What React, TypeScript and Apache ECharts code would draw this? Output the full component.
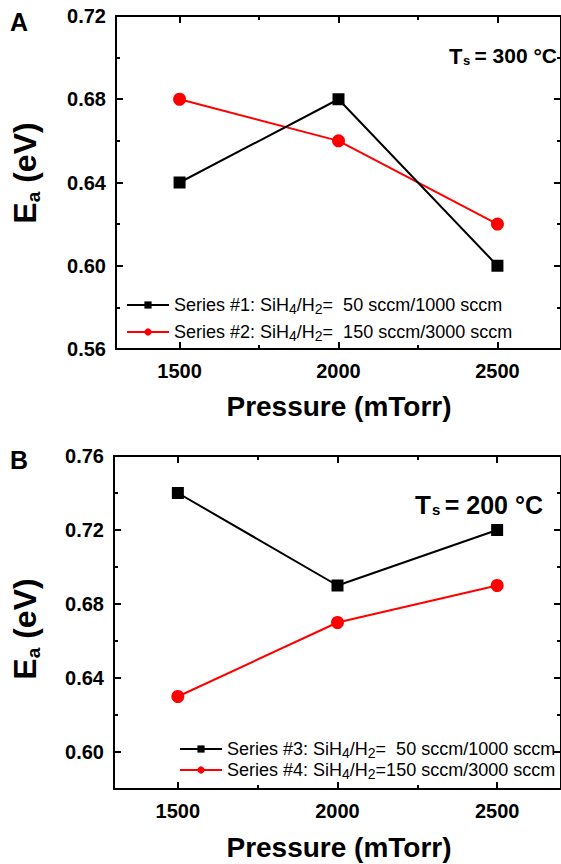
import React, { useEffect, useRef } from "react";
import * as echarts from "echarts";

const FONT = '"Liberation Sans", Arial, Helvetica, sans-serif';

const pressure = [1500, 2000, 2500];
const series1 = [0.64, 0.68, 0.6];
const series2 = [0.68, 0.66, 0.62];
const series3 = [0.74, 0.69, 0.72];
const series4 = [0.63, 0.67, 0.69];

const xMajorTicks = [1500, 2000, 2500];
const xMinorTicks = [1750, 2250];
const yMajorA = [0.56, 0.6, 0.64, 0.68, 0.72];
const yMinorA = [0.58, 0.62, 0.66, 0.7];
const yMajorB = [0.6, 0.64, 0.68, 0.72, 0.76];
const yMinorB = [0.62, 0.66, 0.7, 0.74];

const names = [
  "Series #1: SiH4/H2=  50 sccm/1000 sccm",
  "Series #2: SiH4/H2=  150 sccm/3000 sccm",
  "Series #3: SiH4/H2=  50 sccm/1000 sccm",
  "Series #4: SiH4/H2=150 sccm/3000 sccm",
];

const richName = (name: string) => {
  const idx = name.indexOf("SiH4/H2");
  const pre = name.slice(0, idx);
  const post = name.slice(idx + 7);
  return `{n|${pre}SiH}{s|4}{n|/H}{s|2}{n|${post}}`;
};

const lineCol = { color: "#000", width: 2 };

function xAxes(grid: number) {
  const base = { type: "value", gridIndex: grid, min: 1300, max: 2700, splitLine: { show: false } };
  return [
    {
      ...base,
      position: "bottom",
      axisLine: { show: true, onZero: false, lineStyle: lineCol },
      axisTick: { show: true, inside: true, length: 7, lineStyle: lineCol, customValues: xMajorTicks },
      axisLabel: {
        show: true,
        customValues: xMajorTicks,
        margin: 12,
        color: "#000",
        fontFamily: FONT,
        fontSize: 20,
        fontWeight: "bold",
        formatter: (v: number) => String(v),
      },
    },
    {
      ...base,
      position: "top",
      axisLine: { show: true, onZero: false, lineStyle: lineCol },
      axisTick: { show: true, inside: true, length: 7, lineStyle: lineCol, customValues: xMajorTicks },
      axisLabel: { show: false },
    },
    {
      ...base,
      position: "bottom",
      axisLine: { show: false },
      axisTick: { show: true, inside: true, length: 4, lineStyle: lineCol, customValues: xMinorTicks },
      axisLabel: { show: false },
    },
    {
      ...base,
      position: "top",
      axisLine: { show: false },
      axisTick: { show: true, inside: true, length: 4, lineStyle: lineCol, customValues: xMinorTicks },
      axisLabel: { show: false },
    },
  ];
}

function yAxes(grid: number, min: number, max: number, major: number[], minor: number[]) {
  const base = { type: "value", gridIndex: grid, min, max, splitLine: { show: false } };
  return [
    {
      ...base,
      position: "left",
      axisLine: { show: true, onZero: false, lineStyle: lineCol },
      axisTick: { show: true, inside: true, length: 7, lineStyle: lineCol, customValues: major },
      axisLabel: {
        show: true,
        customValues: major,
        margin: 10,
        color: "#000",
        fontFamily: FONT,
        fontSize: 20,
        fontWeight: "bold",
        formatter: (v: number) => v.toFixed(2),
      },
    },
    {
      ...base,
      position: "right",
      axisLine: { show: true, onZero: false, lineStyle: lineCol },
      axisTick: { show: true, inside: true, length: 7, lineStyle: lineCol, customValues: major },
      axisLabel: { show: false },
    },
    {
      ...base,
      position: "left",
      axisLine: { show: false },
      axisTick: { show: true, inside: true, length: 4, lineStyle: lineCol, customValues: minor },
      axisLabel: { show: false },
    },
    {
      ...base,
      position: "right",
      axisLine: { show: false },
      axisTick: { show: true, inside: true, length: 4, lineStyle: lineCol, customValues: minor },
      axisLabel: { show: false },
    },
  ];
}

const legendRich = {
  n: { fontFamily: FONT, fontSize: 18, color: "#000", lineHeight: 22 },
  s: { fontFamily: FONT, fontSize: 14, color: "#000", lineHeight: 4, verticalAlign: "bottom" },
};

const mkSeries = (name: string, vals: number[], idx: number, black: boolean) => ({
  type: "line",
  name,
  xAxisIndex: idx,
  yAxisIndex: idx,
  data: pressure.map((p, i) => [p, vals[i]]),
  symbol: black ? "rect" : "circle",
  symbolSize: black ? 12 : 13,
  itemStyle: { color: black ? "#000" : "#ff0000" },
  lineStyle: { color: black ? "#000" : "#ff0000", width: 2 },
  z: black ? 3 : 2,
});

const txt = (text: string, x: number, y: number, size: number, align = "left", vAlign = "alphabetic") => ({
  type: "text",
  x,
  y,
  style: { text, font: `bold ${size}px ${FONT}`, fill: "#000", align, verticalAlign: vAlign },
});

export default function App() {
  const ref = useRef<HTMLDivElement>(null);
  useEffect(() => {
    if (!ref.current) return;
    const chart = echarts.init(ref.current, null, { renderer: "svg" });
    const yName = (cy: number) => ({
      type: "text",
      x: 25,
      y: cy,
      rotation: Math.PI / 2,
      style: {
        text: "{e|E}{s|a}{e| (eV)}",
        align: "center",
        verticalAlign: "middle",
        rich: {
          e: { font: `bold 32px ${FONT}`, fill: "#000", lineHeight: 36 },
          s: { font: `bold 19px ${FONT}`, fill: "#000", lineHeight: 8, verticalAlign: "bottom" },
        },
      },
    });
    const option: any = {
      animation: false,
      backgroundColor: "#fff",
      grid: [
        { left: 116, top: 16, width: 446, height: 333 },
        { left: 114, top: 456, width: 448, height: 333 },
      ],
      xAxis: [...xAxes(0), ...xAxes(1)],
      yAxis: [...yAxes(0, 0.56, 0.72, yMajorA, yMinorA), ...yAxes(1, 0.58, 0.76, yMajorB, yMinorB)],
      legend: [
        {
          data: [names[0], names[1]],
          orient: "vertical",
          left: 121,
          top: 291,
          itemWidth: 42,
          itemHeight: 9,
          itemGap: 7,
          formatter: richName,
          textStyle: { rich: legendRich },
        },
        {
          data: [names[2], names[3]],
          orient: "vertical",
          left: 174,
          top: 735,
          itemWidth: 42,
          itemHeight: 9,
          itemGap: 1,
          formatter: richName,
          textStyle: { rich: legendRich },
        },
      ],
      series: [
        mkSeries(names[0], series1, 0, true),
        mkSeries(names[1], series2, 0, false),
        mkSeries(names[2], series3, 4, true),
        mkSeries(names[3], series4, 4, false),
      ],
      graphic: [
        txt("A", 19, 22, 25, "center", "middle"),
        txt("B", 19, 460, 25, "center", "middle"),
        // Ts = 300 °C
        txt("T", 449, 45, 22, "left"),
        txt("s", 463, 54, 13, "left"),
        txt("= 300 °C", 557, 45, 21, "right"),
        // Ts = 200 °C
        txt("T", 415, 492, 26, "left"),
        txt("s", 432, 502, 15, "left"),
        txt("= 200 °C", 543, 492, 25, "right"),
        txt("Pressure (mTorr)", 339, 406, 28, "center", "middle"),
        txt("Pressure (mTorr)", 339, 847, 28, "center", "middle"),
        yName(173),
        yName(629),
      ],
    };
    chart.setOption(option);
    return () => chart.dispose();
  }, []);
  return <div ref={ref} style={{ position: "absolute", left: 0, top: 0, width: 561, height: 864 }} />;
}
